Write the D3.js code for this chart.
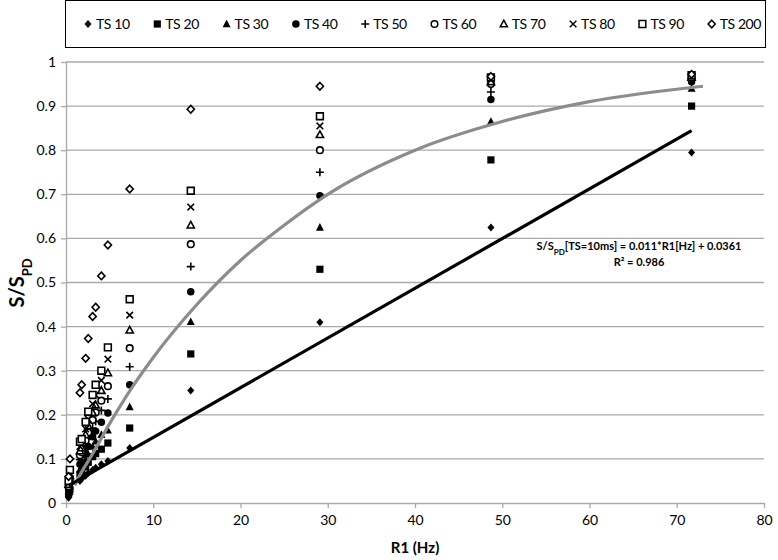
<!DOCTYPE html>
<html><head><meta charset="utf-8">
<script src="https://cdn.jsdelivr.net/npm/d3@7"></script>
<style>
html,body{margin:0;padding:0;background:#fff;}
svg{display:block;}
text{font-family:Lato,"Open Sans",sans-serif;}
</style></head>
<body>
<svg id="chart" width="778" height="560"></svg>
<script>
// ---------- data ----------
const seriesNames = ["TS 10","TS 20","TS 30","TS 40","TS 50","TS 60","TS 70","TS 80","TS 90","TS 200"];
const r1 = [0.3, 0.45, 1.6, 1.8, 2.25, 2.55, 3.05, 3.4, 4.05, 4.8, 7.3, 14.3, 29.1, 48.7, 71.7];
const ts10  = [0.012,0.020,0.050,0.055,0.062,0.068,0.075,0.080,0.088,0.095,0.125,0.255,0.410,0.625,0.795];
const ts20  = [0.020,0.030,0.065,0.070,0.082,0.092,0.105,0.112,0.122,0.136,0.170,0.338,0.530,0.778,0.900];
const ts30  = [0.026,0.038,0.076,0.082,0.098,0.110,0.128,0.140,0.155,0.165,0.218,0.411,0.625,0.865,0.940];
const ts40  = [0.030,0.045,0.088,0.093,0.113,0.128,0.150,0.163,0.183,0.204,0.268,0.479,0.697,0.915,0.955];
const ts50  = [0.034,0.050,0.098,0.104,0.128,0.145,0.170,0.185,0.210,0.236,0.309,0.536,0.750,0.932,0.960];
const ts60  = [0.038,0.056,0.108,0.115,0.142,0.160,0.188,0.205,0.232,0.265,0.351,0.587,0.800,0.950,0.963];
const ts70  = [0.042,0.062,0.118,0.125,0.155,0.175,0.205,0.222,0.255,0.295,0.392,0.630,0.835,0.955,0.965];
const ts80  = [0.045,0.068,0.128,0.135,0.168,0.190,0.225,0.245,0.278,0.326,0.426,0.671,0.855,0.960,0.968];
const ts90  = [0.050,0.075,0.139,0.145,0.184,0.207,0.245,0.268,0.300,0.353,0.462,0.708,0.877,0.965,0.970];
const ts200 = [0.060,0.100,0.250,0.268,0.328,0.373,0.423,0.444,0.515,0.585,0.712,0.893,0.945,0.967,0.972];
const seriesValues = [ts10,ts20,ts30,ts40,ts50,ts60,ts70,ts80,ts90,ts200];
const markerTypes = ["diamondF","squareF","triangleF","circleF","plus","circleO","triangleO","cross","squareO","diamondO"];

// grey fitted curve
const fitR1 = [1.0, 1.5, 3, 5, 7.5, 10, 15, 20, 25, 30, 40, 50, 60, 73];
const fitS  = [0.04, 0.06, 0.11, 0.18, 0.26, 0.33, 0.45, 0.55, 0.63, 0.70, 0.80, 0.865, 0.91, 0.945];

// linear trendline of TS 10
const trendSlope = 0.01127, trendIntercept = 0.0361;
const trendLabel1 = "[TS=10ms] = 0.011*R1[Hz] + 0.0361";
const trendLabel2 = "R² = 0.986";

const xTicks = [0,10,20,30,40,50,60,70,80];
const yTicks = [0,0.1,0.2,0.3,0.4,0.5,0.6,0.7,0.8,0.9,1];
const yTickLabels = ["0","0.1","0.2","0.3","0.4","0.5","0.6","0.7","0.8","0.9","1"];

// ---------- chart ----------
const svg = d3.select("#chart");
const x = d3.scaleLinear().domain([0,80]).range([66,764]);
const y = d3.scaleLinear().domain([0,1]).range([503,62]);
const grid = "#a9a9a9";

// gridlines
svg.append("g").selectAll("line").data(yTicks.slice(1)).join("line")
  .attr("x1",x(0)).attr("x2",x(80)).attr("y1",d=>y(d)).attr("y2",d=>y(d))
  .attr("stroke",grid).attr("stroke-width",1.3);

// axes
const xAxis = svg.append("g").attr("transform",`translate(0,${y(0)})`)
  .call(d3.axisBottom(x).tickValues(xTicks).tickSize(5).tickSizeOuter(0).tickPadding(7).tickFormat(d3.format("d")));
const yAxis = svg.append("g").attr("transform",`translate(${x(0)},0)`)
  .call(d3.axisLeft(y).tickValues(yTicks).tickSize(5).tickSizeOuter(0).tickPadding(5).tickFormat((d,i)=>yTickLabels[i]));
[xAxis,yAxis].forEach(a=>{
  a.select(".domain").attr("stroke",grid).attr("stroke-width",1.3);
  a.selectAll(".tick line").attr("stroke",grid).attr("stroke-width",1.3);
  a.selectAll(".tick text").attr("fill","#000").style("font-family","Lato,sans-serif").style("font-size","14px");
});

// marker shapes
function marker(type){
  switch(type){
    case "diamondF": return {d:"M0,-4L3.5,0L0,4L-3.5,0Z", fill:"#000", stroke:"none"};
    case "squareF": return {d:"M-3.6,-3.6H3.6V3.6H-3.6Z", fill:"#000", stroke:"none"};
    case "triangleF": return {d:"M0,-4.3L4,3.3H-4Z", fill:"#000", stroke:"none"};
    case "circleF": return {d:d3.symbol(d3.symbolCircle,44)(), fill:"#000", stroke:"none"};
    case "plus": return {d:"M-4,0H4M0,-4V4", fill:"none", stroke:"#000"};
    case "circleO": return {d:"M3.3,0A3.3,3.3 0 1,1 -3.3,0A3.3,3.3 0 1,1 3.3,0Z", fill:"#fff", stroke:"#000"};
    case "triangleO": return {d:"M0,-3.8L3.6,2.8H-3.6Z", fill:"#fff", stroke:"#000"};
    case "cross": return {d:"M-3.3,-3.3L3.3,3.3M3.3,-3.3L-3.3,3.3", fill:"none", stroke:"#000"};
    case "squareO": return {d:"M-3.4,-3.4H3.4V3.4H-3.4Z", fill:"#fff", stroke:"#000"};
    case "diamondO": return {d:"M0,-3.8L3.6,0L0,3.8L-3.6,0Z", fill:"#fff", stroke:"#000"};
  }
}

// points
seriesValues.forEach((vals,si)=>{
  const m = marker(markerTypes[si]);
  svg.append("g").selectAll("path").data(vals.map((v,i)=>[r1[i],v])).join("path")
    .attr("d",m.d).attr("transform",d=>`translate(${x(d[0])},${y(d[1])})`)
    .attr("fill",m.fill).attr("stroke",m.stroke).attr("stroke-width",1.6);
});

// fitted grey curve
svg.append("path").datum(fitR1.map((v,i)=>[v,fitS[i]]))
  .attr("d",d3.line().x(d=>x(d[0])).y(d=>y(d[1])).curve(d3.curveMonotoneX))
  .attr("fill","none").attr("stroke","#8c8c8c").attr("stroke-width",3.2);

// trendline
const tx = d3.extent(r1);
svg.append("path").datum(tx.map(v=>[v,trendSlope*v+trendIntercept]))
  .attr("d",d3.line().x(d=>x(d[0])).y(d=>y(d[1])))
  .attr("fill","none").attr("stroke","#000").attr("stroke-width",3.2);

// trend label
const lab = svg.append("text").attr("x",639).attr("y",250).attr("text-anchor","middle")
  .style("font-weight","bold").style("font-size","11px");
lab.append("tspan").text("S/S");
lab.append("tspan").attr("baseline-shift","sub").style("font-size","8px").text("PD");
lab.append("tspan").text(trendLabel1);
svg.append("text").attr("x",639).attr("y",266).attr("text-anchor","middle")
  .style("font-weight","bold").style("font-size","11px")
  .text(trendLabel2);

// axis titles
const yt = svg.append("text").attr("transform","translate(24,283) rotate(-90)").attr("text-anchor","middle")
  .style("font-weight","bold").style("font-size","20px");
yt.append("tspan").text("S/S");
yt.append("tspan").attr("baseline-shift","sub").style("font-size","13px").text("PD");
svg.append("text").attr("x",415).attr("y",553).attr("text-anchor","middle")
  .style("font-weight","bold").style("font-size","15px").text("R1 (Hz)");

// legend
svg.append("rect").attr("x",65.5).attr("y",0.5).attr("width",700).attr("height",47)
  .attr("fill","#fff").attr("stroke","#000").attr("stroke-width",1);
const lg = svg.append("g").selectAll("g").data(seriesNames).join("g")
  .attr("transform",(d,i)=>`translate(${88+i*69.3},24)`);
lg.append("path").attr("d",(d,i)=>marker(markerTypes[i]).d)
  .attr("fill",(d,i)=>marker(markerTypes[i]).fill).attr("stroke",(d,i)=>marker(markerTypes[i]).stroke).attr("stroke-width",1.5);
lg.append("text").attr("x",8).attr("dy","0.35em").style("font-size","14px").style("letter-spacing","-0.4px").text(d=>d);
</script>
</body></html>
